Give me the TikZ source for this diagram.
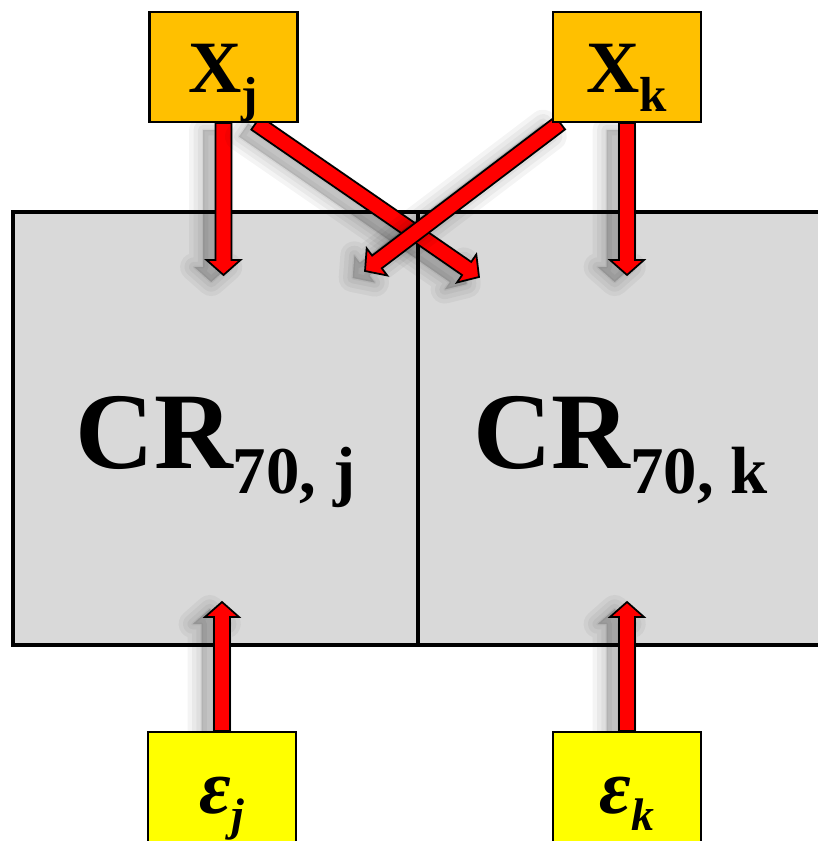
\documentclass[tikz,border=0pt]{standalone}
\usepackage{fontspec}
\setmainfont{Liberation Serif}
\usetikzlibrary{calc,backgrounds}

\definecolor{xorange}{HTML}{FFC000}
\definecolor{eyellow}{HTML}{FFFF00}
\definecolor{crgray}{HTML}{D9D9D9}
\definecolor{arrowred}{HTML}{FF0000}

% lowered subscript: shift, size, text
\newcommand{\lowsub}[3]{\raisebox{-#1}{\fontsize{#2}{#2}\selectfont #3}}

\tikzset{
  smallbox/.style={draw, line width=0.6pt, minimum width=1.48cm, minimum height=1.10cm,
    inner sep=0pt, text height=14.8pt, text depth=0pt},
  crbox/.style={draw, line width=1.2pt, fill=crgray, minimum width=4.05cm, minimum height=4.33cm,
    inner sep=0pt, text height=22.8pt, text depth=0pt, font=\fontsize{31}{34}\selectfont\bfseries},
  % soft shadow: stacked faint copies
  shadowcopy/.style={preaction={fill=black, draw=black, line width=#1, line join=round,
    opacity=0.045, transform canvas={xshift=-3.5pt, yshift=-2pt}}},
  fatarrow/.style={shadowcopy=8pt, shadowcopy=5.5pt, shadowcopy=3pt, shadowcopy=0.8pt,
    draw=black, line width=0.5pt, fill=arrowred, line join=miter,
    to path={
      ($(\tikztostart)!0.08cm!90:(\tikztotarget)$)
      -- ($(\tikztotarget)!0.15cm!(\tikztostart)!0.08cm!-90:(\tikztostart)$)
      -- ($(\tikztotarget)!0.15cm!(\tikztostart)!0.17cm!-90:(\tikztostart)$)
      -- (\tikztotarget)
      -- ($(\tikztotarget)!0.15cm!(\tikztostart)!0.17cm!90:(\tikztostart)$)
      -- ($(\tikztotarget)!0.15cm!(\tikztostart)!0.08cm!90:(\tikztostart)$)
      -- ($(\tikztostart)!0.08cm!-90:(\tikztotarget)$)
      -- cycle}},
}

\begin{document}
\begin{tikzpicture}
  \useasboundingbox (0,0) rectangle (8.18,-8.41);

  % inputs X and errors
  \node[smallbox, fill=xorange] (xj) at (2.235,-0.67)
    {{\fontsize{21}{24}\selectfont\bfseries X}\lowsub{5.4pt}{14}{\bfseries j}};
  \node[smallbox, fill=xorange] (xk) at (6.27,-0.67)
    {{\fontsize{21}{24}\selectfont\bfseries X}\lowsub{5.4pt}{14}{\bfseries k}};
  \node[smallbox, fill=eyellow, minimum height=1.3cm, text height=9.2pt] (ej) at (2.22,-7.97)
    {{\fontsize{22}{24}\selectfont\bfseries\itshape ε}\lowsub{4.8pt}{13}{\bfseries\itshape j}};
  \node[smallbox, fill=eyellow, minimum height=1.3cm, text height=9.2pt] (ek) at (6.27,-7.97)
    {{\fontsize{22}{24}\selectfont\bfseries\itshape ε}\lowsub{4.8pt}{13}{\bfseries\itshape k}};

  % arrow tips
  \coordinate (tjj) at (xj.south |- 0,-2.75);
  \coordinate (tjk) at (4.79,-2.77);
  \coordinate (tkj) at (3.65,-2.71);
  \coordinate (tkk) at (xk.south |- 0,-2.75);
  \coordinate (uj) at (ej.north |- 0,-6.02);
  \coordinate (uk) at (ek.north |- 0,-6.02);

  \begin{pgfonlayer}{background}
    % CR_70 boxes
    \node[crbox] (crj) at (2.155,-4.285) {CR\lowsub{7pt}{19}{70, j}};
    \node[crbox] (crk) at (6.205,-4.285) {CR\lowsub{7pt}{19}{70, k}};

    % arrows
    \path[fatarrow] (xj.south) to (tjj);
    \path[fatarrow] (xj.-60) to (tjk);
    \path[fatarrow] (xk.-140) to (tkj);
    \path[fatarrow] (xk.south) to (tkk);
    \path[fatarrow] (ej.north) to (uj);
    \path[fatarrow] (ek.north) to (uk);
  \end{pgfonlayer}
\end{tikzpicture}
\end{document}
